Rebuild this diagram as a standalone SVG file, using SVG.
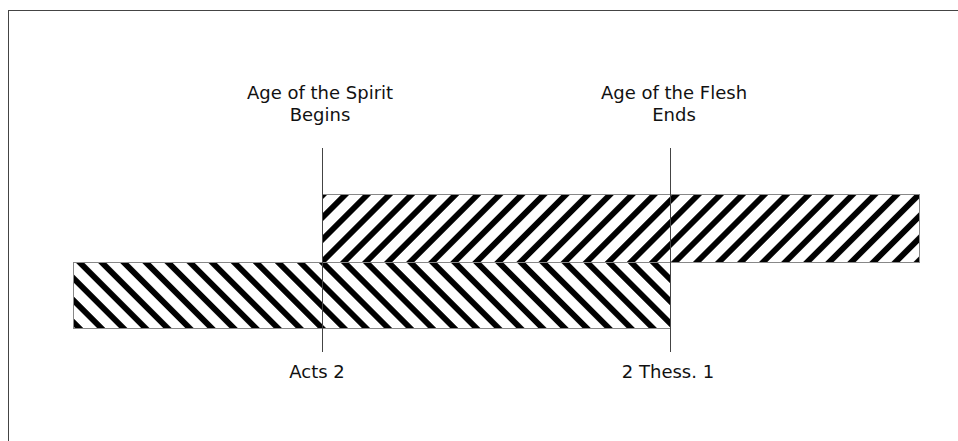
<svg xmlns="http://www.w3.org/2000/svg" width="958" height="441" viewBox="0 0 958 441">
<style>
.lbl{font-family:"DejaVu Sans","Liberation Sans",sans-serif;font-size:18px;fill:#111;text-anchor:middle}
.bar{stroke:#888;stroke-width:1}
.tick{stroke:#444;stroke-width:1;fill:none}
</style>
<defs>
<pattern id="up" patternUnits="userSpaceOnUse" width="15.6" height="20" patternTransform="translate(322,262) rotate(45)">
<rect x="0" y="0" width="15.6" height="20" fill="#fff"/>
<rect x="-2.9" y="0" width="5.8" height="20" fill="#000"/>
<rect x="12.7" y="0" width="5.8" height="20" fill="#000"/>
</pattern>
<pattern id="down" patternUnits="userSpaceOnUse" width="15.6" height="20" patternTransform="translate(322,262) rotate(-45)">
<rect x="0" y="0" width="15.6" height="20" fill="#fff"/>
<rect x="-2.9" y="0" width="5.8" height="20" fill="#000"/>
<rect x="12.7" y="0" width="5.8" height="20" fill="#000"/>
</pattern>
</defs>
<rect x="0" y="0" width="958" height="441" fill="#fff"/>
<rect x="8.5" y="10.5" width="1200" height="1200" fill="none" stroke="#444" stroke-width="1"/>
<g id="flesh">
<rect class="bar" x="73.5" y="262.5" width="597" height="66" fill="url(#down)"/>
</g>
<g id="spirit">
<rect class="bar" x="322.5" y="194.5" width="597" height="68" fill="url(#up)"/>
</g>
<g id="connectors">
<line class="tick" x1="322.5" y1="148" x2="322.5" y2="352"/>
<line class="tick" x1="670.5" y1="148" x2="670.5" y2="352"/>
</g>
<g id="label-spirit">
<text class="lbl" x="320" y="99">Age of the Spirit</text>
<text class="lbl" x="320" y="121">Begins</text>
</g>
<g id="label-flesh">
<text class="lbl" x="674" y="99">Age of the Flesh</text>
<text class="lbl" x="674" y="121">Ends</text>
</g>
<g id="label-acts">
<text class="lbl" x="317" y="378">Acts 2</text>
</g>
<g id="label-thess">
<text class="lbl" x="668" y="378">2 Thess. 1</text>
</g>
</svg>
